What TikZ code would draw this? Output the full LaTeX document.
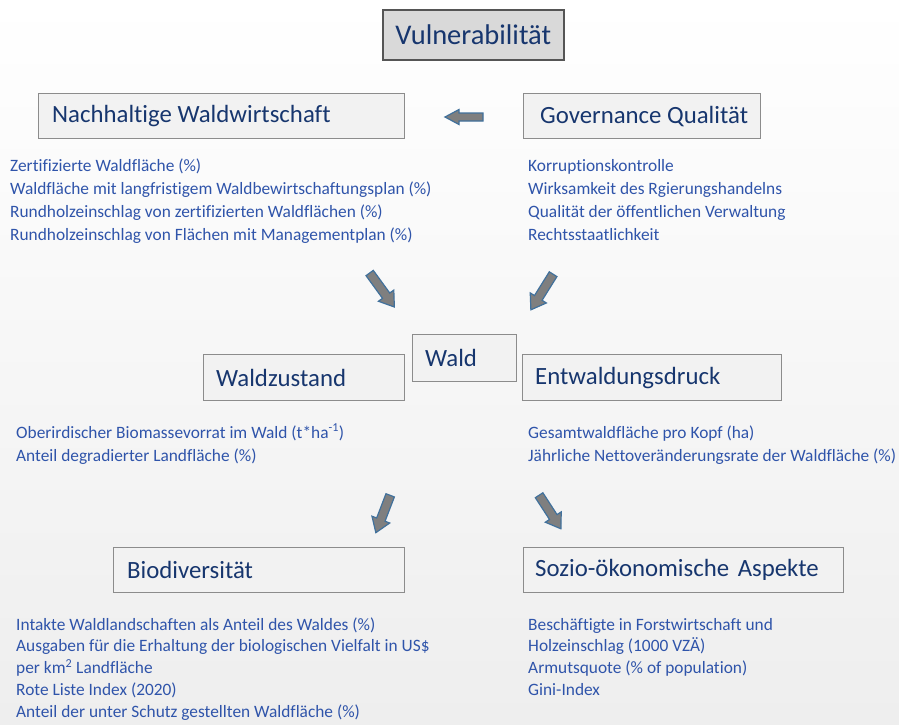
\documentclass[tikz,border=0pt]{standalone}
\usepackage{fontspec}
\setmainfont{Carlito}[Ligatures=NoCommon]
\definecolor{navy}{HTML}{17366E}
\definecolor{listblue}{HTML}{2F54AA}
\definecolor{boxfill}{HTML}{F2F2F2}
\definecolor{boxline}{HTML}{8C8C8C}
\definecolor{titlefill}{HTML}{D9D9D9}
\definecolor{titleline}{HTML}{555555}
\definecolor{arrgray}{HTML}{7F7F7F}
\definecolor{arrblue}{HTML}{41719C}
\definecolor{bggray}{HTML}{EEEEEE}
\tikzset{
  hbox/.style={draw=boxline, fill=boxfill, line width=1.3pt, inner sep=0pt, anchor=north west},
  htext/.style={anchor=west, inner sep=0pt, font=\fontsize{24.8}{28}\selectfont, text=navy},
  titlebox/.style={draw=titleline, fill=titlefill, line width=1.5pt, font=\fontsize{28.5}{32}\selectfont,
    text=navy, inner sep=0pt, anchor=north west},
  listtext/.style={anchor=base west, inner sep=0pt, font=\fontsize{17.35}{20}\selectfont, text=listblue},
  arrowstyle/.style={draw=arrblue, fill=arrgray, line width=1.2pt, line join=miter},
  pics/blockarrow/.style n args={3}{code={
    \draw[arrowstyle] (-#1,-#2) -- (#1-14,-#2) -- (#1-14,-#3) -- (#1,0) -- (#1-14,#3) -- (#1-14,#2) -- (-#1,#2) -- cycle;}}
}
\begin{document}
\begin{tikzpicture}[x=1pt,y=-1pt]
\useasboundingbox (0,0) rectangle (899,724);
\shade[top color=white, middle color=white, bottom color=bggray] (0,0) rectangle (899,724);

% title
\node[titlebox, minimum width=181pt, minimum height=50pt] (vul) at (382,9) {Vulnerabilität};

% heading boxes
\node[hbox, minimum width=366pt, minimum height=45pt] (nach) at (38,93) {};
\node[htext] (nachT) at ([xshift=14pt]nach.west) {Nachhaltige Waldwirtschaft};
\node[hbox, minimum width=237pt, minimum height=45pt] (gov) at (523,93) {};
\node[htext] (govT) at ([xshift=17pt]gov.west) {Governance Qualität};
\node[hbox, minimum width=104pt, minimum height=47pt] (wald) at (412,334) {};
\node[htext] (waldT) at ([xshift=13pt]wald.west) {Wald};
\node[hbox, minimum width=201pt, minimum height=46pt] (zust) at (203,354) {};
\node[htext] (zustT) at ([xshift=13pt]zust.west) {Waldzustand};
\node[hbox, minimum width=259pt, minimum height=46pt] (entw) at (522,354) {};
\node[htext] (entwT) at ([xshift=13pt]entw.west) {Entwaldungsdruck};
\node[hbox, minimum width=291pt, minimum height=45pt] (bio) at (113,547) {};
\node[htext] (bioT) at ([xshift=14pt]bio.west) {Biodiversität};
\node[hbox, minimum width=320pt, minimum height=45pt] (sozio) at (523,547) {};
\node[htext] (sozioT) at ([xshift=12pt]sozio.west) {Sozio-ökonomische\hspace{0.12em} Aspekte};

% block arrows
\pic[rotate=180] (agov) at (464,117) {blockarrow={19}{4}{7.5}};
\pic[rotate=-54] (anach) at (382,290) {blockarrow={21}{4.5}{9.5}};
\pic[rotate=-122] (agov2) at (542,292) {blockarrow={21}{4.5}{9.5}};
\pic[rotate=-111] (azust) at (383,514) {blockarrow={20}{4.5}{9.5}};
\pic[rotate=-57] (aentw) at (550,512) {blockarrow={20}{4.5}{9.5}};

% lists
\foreach \t [count=\i] in {{Zertifizierte Waldfläche (\%)},
  {Waldfläche mit langfristigem Waldbewirtschaftungsplan (\%)},
  {Rundholzeinschlag von zertifizierten Waldflächen (\%)},
  {Rundholzeinschlag von Flächen mit Managementplan (\%)}}
  \node[listtext] (la\i) at (10,{171+23*(\i-1)}) {\t};

\foreach \t [count=\i] in {{Korruptionskontrolle},
  {Wirksamkeit des Rgierungshandelns},
  {Qualität der öffentlichen Verwaltung},
  {Rechtsstaatlichkeit}}
  \node[listtext] (lb\i) at (528,{171+23*(\i-1)}) {\t};

\foreach \t [count=\i] in {{Oberirdischer Biomassevorrat im Wald (t*ha\textsuperscript{-1})},
  {Anteil degradierter Landfläche (\%)}}
  \node[listtext] (lc\i) at (16,{438+23.5*(\i-1)}) {\t};

\foreach \t [count=\i] in {{Gesamtwaldfläche pro Kopf (ha)},
  {Jährliche Nettoveränderungsrate der Waldfläche (\%)}}
  \node[listtext] (ld\i) at (528,{438+23.5*(\i-1)}) {\t};

\foreach \t [count=\i] in {{Intakte Waldlandschaften als Anteil des Waldes (\%)},
  {Ausgaben für die Erhaltung der biologischen Vielfalt in US\$},
  {per km\textsuperscript{2} Landfläche},
  {Rote Liste Index (2020)},
  {Anteil der unter Schutz gestellten Waldfläche (\%)}}
  \node[listtext] (le\i) at (16,{630+21.75*(\i-1)}) {\t};

\foreach \t [count=\i] in {{Beschäftigte in Forstwirtschaft und},
  {Holzeinschlag (1000 VZÄ)},
  {Armutsquote (\% of population)},
  {Gini-Index}}
  \node[listtext] (lf\i) at (528,{630+21.75*(\i-1)}) {\t};
\end{tikzpicture}
\end{document}
